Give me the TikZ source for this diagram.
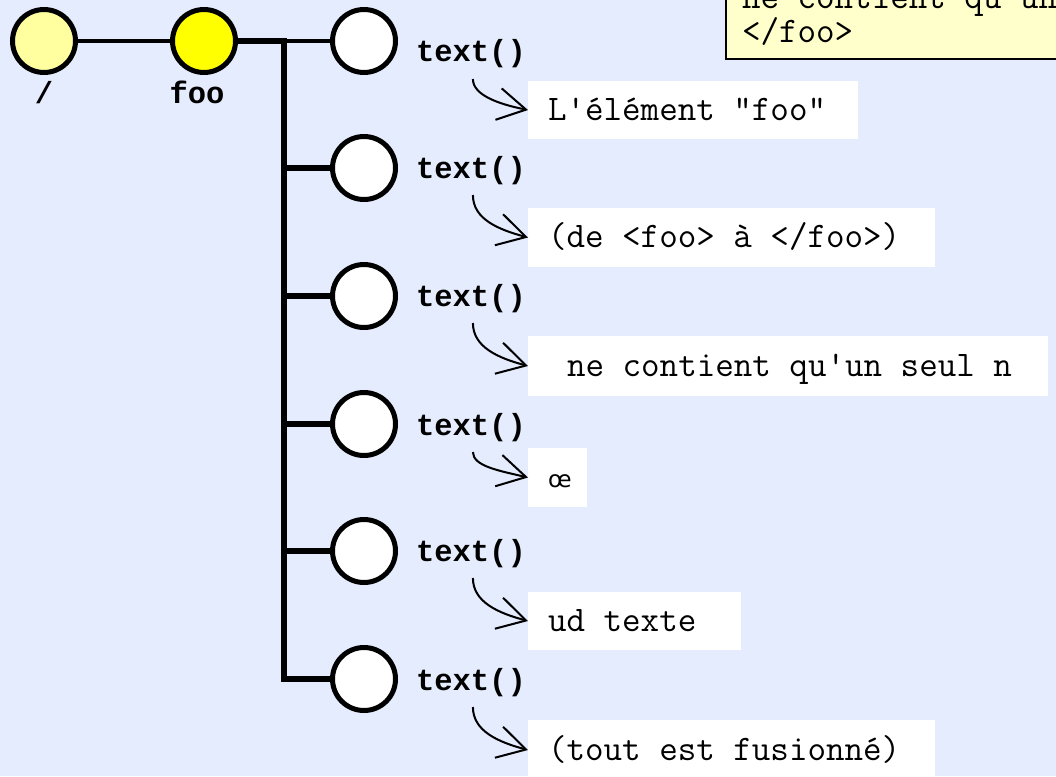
\documentclass[tikz,border=0pt]{standalone}
\usepackage{fontspec}
\newfontfamily\boldmono{Liberation Mono}
\newfontfamily\oefont{DejaVu Sans}
\usetikzlibrary{arrows.meta}

\definecolor{pagebg}{RGB}{229,236,253}
\definecolor{rootfill}{RGB}{255,255,160}
\definecolor{foofill}{RGB}{255,255,0}
\definecolor{notefill}{RGB}{255,255,204}

\tikzset{
  every node/.style={inner sep=0pt, outer sep=0pt},
  treenode/.style={circle, draw=black, line width=5pt, minimum size=63pt},
  rootnode/.style={treenode, fill=rootfill},
  elemnode/.style={treenode, fill=foofill},
  textnode/.style={treenode, fill=white},
  namelabel/.style={font=\boldmono\bfseries\fontsize{30.5}{36}\selectfont, anchor=base},
  fnlabel/.style={font=\boldmono\bfseries\fontsize{30.5}{36}\selectfont, anchor=base west},
  valtext/.style={font=\ttfamily\fontsize{36}{28}\selectfont, anchor=base west},
  valbox/.style={fill=white, anchor=north west},
  rootlink/.style={line width=4pt},
  busline/.style={line width=6.5pt, line join=miter},
  branch/.style={line width=4pt},
  branchthick/.style={line width=6pt},
  pointer/.style={line width=2pt, -{Straight Barb[length=28pt, width=32pt, line width=2pt]}},
  notebox/.style={draw=black, line width=2pt, fill=notefill},
}

\begin{document}
\begin{tikzpicture}[x=1pt, y=-1pt]
\useasboundingbox (0,0) rectangle (1056,776);
\clip (0,0) rectangle (1056,776);
\fill[pagebg] (0,0) rectangle (1056,776);

% note in the upper right corner
\node[notebox, minimum width=360pt, minimum height=90pt, anchor=south west] (note) at (726,59) {};
\node[valtext, align=left, anchor=south west] (notetext) at (742,45) {ne contient qu'un\\</foo>};

% value boxes
\node[valbox, minimum width=330pt, minimum height=58pt] (b1) at (528,81) {};
\node[valbox, minimum width=407pt, minimum height=59pt] (b2) at (528,208) {};
\node[valbox, minimum width=520pt, minimum height=60pt] (b3) at (528,336) {};
\node[valbox, minimum width=59pt, minimum height=59pt] (b4) at (528,448) {};
\node[valbox, minimum width=213pt, minimum height=58pt] (b5) at (528,592) {};
\node[valbox, minimum width=407pt, minimum height=60pt] (b6) at (528,720) {};

\node[valtext] (v1) at (548,120) {L'élément "foo"};
\node[valtext] (v2) at (548,247) {(de <foo> à </foo>)};
\node[valtext] (v3) at (567,376) {ne contient qu'un seul n};
\node[anchor=base west, font=\oefont\fontsize{23}{27}\selectfont] (v4) at (548,487) {œ};
\node[valtext] (v5) at (548,631) {ud texte};
\node[valtext] (v6) at (548,760) {(tout est fusionné)};

% tree nodes
\node[rootnode] (root) at (44,41) {};
\node[elemnode] (foo) at (204,41) {};
\node[textnode] (c1) at (364,41) {};
\node[textnode] (c2) at (364,168) {};
\node[textnode] (c3) at (364,296) {};
\node[textnode] (c4) at (364,424) {};
\node[textnode] (c5) at (364,551) {};
\node[textnode] (c6) at (364,679) {};

\node[namelabel] (rootname) at (44,103) {/};
\node[namelabel] (fooname) at (197,103) {foo};

% connectors of the tree
\coordinate (bustop) at (284,41);
\draw[rootlink] (root) -- (foo);
\draw[busline] (foo) -- (bustop) |- (c6);
\draw[branch] (bustop) -- (c1);
\draw[branchthick] (c2 -| bustop) -- (c2);
\draw[branchthick] (c3 -| bustop) -- (c3);
\draw[branchthick] (c4 -| bustop) -- (c4);
\draw[branchthick] (c5 -| bustop) -- (c5);

% text() labels
\node[fnlabel] (l1) at (416,62) {text()};
\node[fnlabel] (l2) at (416,178) {text()};
\node[fnlabel] (l3) at (416,306) {text()};
\node[fnlabel] (l4) at (416,435) {text()};
\node[fnlabel] (l5) at (416,561) {text()};
\node[fnlabel] (l6) at (416,690) {text()};

% pointers from each text() to its value
\draw[pointer] ([xshift=2pt, yshift=-17pt]l1.base) .. controls +(0,16) and +(-30,-6) .. (b1.west);
\draw[pointer] ([xshift=2pt, yshift=-17pt]l2.base) .. controls +(0,24) and +(-30,-8) .. (b2.west);
\draw[pointer] ([xshift=2pt, yshift=-17pt]l3.base) .. controls +(0,24) and +(-30,-8) .. (b3.west);
\draw[pointer] ([xshift=2pt, yshift=-17pt]l4.base) .. controls +(0,14) and +(-30,-7) .. (b4.west);
\draw[pointer] ([xshift=2pt, yshift=-17pt]l5.base) .. controls +(0,24) and +(-30,-8) .. (b5.west);
\draw[pointer] ([xshift=2pt, yshift=-17pt]l6.base) .. controls +(0,24) and +(-30,-8) .. (b6.west);
\end{tikzpicture}
\end{document}
